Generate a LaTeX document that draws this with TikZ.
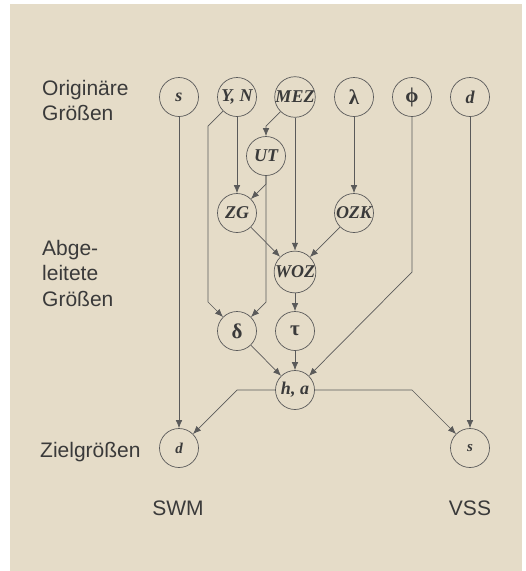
\documentclass[tikz,border=0pt]{standalone}
\usepackage{fontspec}
\setmainfont{Liberation Sans}
\newfontfamily\varfont{Liberation Serif}
\usepackage{xcolor}
\usetikzlibrary{arrows.meta}
\definecolor{paper}{HTML}{E5DCC8}
\definecolor{ink}{HTML}{3A3A3A}
\definecolor{wire}{HTML}{5A5A5A}

\begin{document}
\begin{tikzpicture}[
  x=1pt, y=-1pt,
  >={Latex[length=8pt,width=6.5pt]},
  var/.style={circle, draw=wire, line width=0.7pt, minimum size=39pt, inner sep=0pt, text=ink, font=\varfont\bfseries\itshape\fontsize{18}{18}\selectfont},
  greek/.style={var, font=\varfont\bfseries\fontsize{21}{21}\selectfont},
  goal/.style={var, font=\varfont\bfseries\itshape\fontsize{15}{15}\selectfont},
  lbl/.style={text=ink, inner sep=0pt, align=left, font=\fontsize{21}{25.5}\selectfont},
  edge/.style={->, draw=wire, line width=0.7pt}
]
\useasboundingbox (0,0) rectangle (526,571);
\fill[paper] (10,4) rectangle (522,571);

\node[var] (s) at (179,97) {s};
\node[var] (yn) at (237,97) {Y, N};
\node[var] (mez) at (295,97) {MEZ};
\node[greek] (lambda) at (354,97) {λ};
\node[greek] (phi) at (412,97) {ϕ};
\node[var] (dtop) at (470,97) {d};
\node[var] (ut) at (266,156) {UT};
\node[var] (zg) at (237,213) {ZG};
\node[var] (ozk) at (354,213) {OZK};
\node[var] (woz) at (295,272) {WOZ};
\node[greek] (delta) at (237,331) {δ};
\node[greek] (tau) at (295,331) {τ};
\node[var] (ha) at (295,390) {h, a};
\node[goal] (dbot) at (179,448) {d};
\node[goal] (sbot) at (470,448) {s};

\coordinate (ynbend) at (208,126);
\coordinate (leftdrop) at (208,302);
\coordinate (mezbend) at (266,126);
\coordinate (utsplit) at (266,184);
\coordinate (utdrop) at (266,302);
\coordinate (phidrop) at (412,272);
\coordinate (haleft) at (237,390);
\coordinate (haright) at (412,390);

\draw[edge] (s) -- (dbot);
\draw[edge] (dtop) -- (sbot);
\draw[edge] (yn) -- (zg);
\draw[edge] (yn) -- (ynbend) -- (leftdrop) -- (delta);
\draw[edge] (mez) -- (mezbend) -- (ut);
\draw[edge] (mez) -- (woz);
\draw[edge] (ut) -- (utsplit) -- (zg);
\draw[edge] (ut) -- (utdrop) -- (delta);
\draw[edge] (lambda) -- (ozk);
\draw[edge] (zg) -- (woz);
\draw[edge] (ozk) -- (woz);
\draw[edge] (woz) -- (tau);
\draw[edge] (delta) -- (ha);
\draw[edge] (tau) -- (ha);
\draw[edge] (phi) -- (phidrop) -- (ha);
\draw[edge] (ha) -- (haleft) -- (dbot);
\draw[edge] (ha) -- (haright) -- (sbot);

\node[lbl, anchor=north west] (orig) at (42,79.7) {Originäre\\Größen};
\node[lbl, anchor=north west] (abgel) at (42,240) {Abge-\\leitete\\Größen};
\node[lbl, anchor=base west] (ziel) at (40,457) {Zielgrößen};
\node[lbl, anchor=base] (swm) at (178,515) {SWM};
\node[lbl, anchor=base] (vss) at (470,515) {VSS};
\end{tikzpicture}
\end{document}
